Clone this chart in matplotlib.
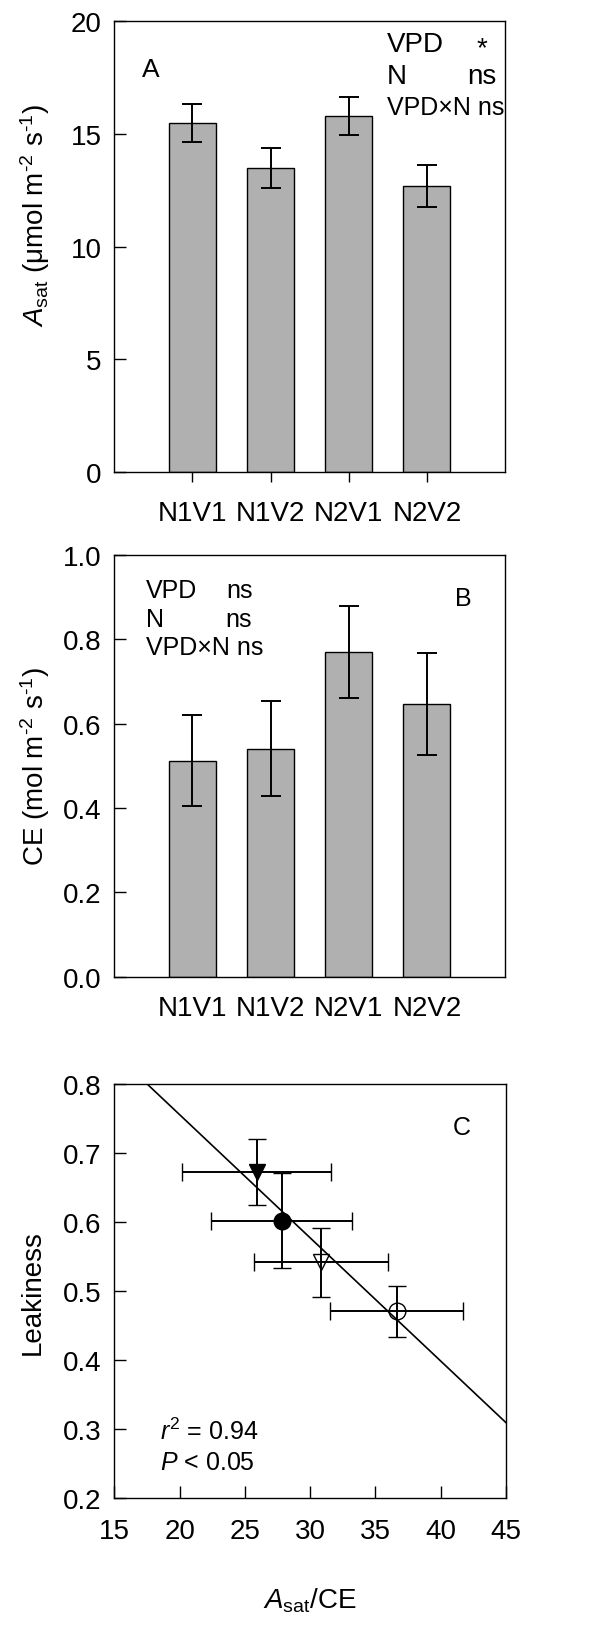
import matplotlib
matplotlib.use('Agg')
import matplotlib.pyplot as plt
import numpy as np

plt.rcParams['font.family'] = ['Liberation Sans', 'DejaVu Sans']
plt.rcParams['mathtext.fontset'] = 'custom'
plt.rcParams['mathtext.rm'] = 'Liberation Sans'
plt.rcParams['mathtext.it'] = 'Liberation Sans:italic'
plt.rcParams['mathtext.bf'] = 'Liberation Sans:bold'

# data
treatments = ['N1V1', 'N1V2', 'N2V1', 'N2V2']
asat_mean = [15.47, 13.48, 15.77, 12.68]
asat_se = [0.85, 0.90, 0.85, 0.95]
ce_mean = [0.512, 0.541, 0.770, 0.647]
ce_se = [0.108, 0.113, 0.108, 0.121]

# panel C: Asat/CE vs leakiness, order N1V1, N1V2, N2V1, N2V2
ratio_mean = [27.82, 25.90, 36.62, 30.83]
ratio_se = [5.40, 5.70, 5.08, 5.10]
leak_mean = [0.602, 0.673, 0.471, 0.542]
leak_se = [0.069, 0.048, 0.037, 0.050]
markers = ['o', 'v', 'o', 'v']
filled = [True, True, False, False]

bar_color = '#b0b0b0'
fs = 20
ann = 18

fig = plt.figure(figsize=(6.03, 16.49), dpi=100)
axA = fig.add_axes([0.1896, 0.7130, 0.6479, 0.2738])
axB = fig.add_axes([0.1896, 0.4071, 0.6479, 0.2557])
axC = fig.add_axes([0.1896, 0.0908, 0.6495, 0.2512])

for ax in (axA, axB, axC):
    for s in ax.spines.values():
        s.set_linewidth(1.0)
    ax.tick_params(axis='y', direction='in', length=8.6, width=1.0,
                   pad=9, labelsize=fs, right=False)
    ax.tick_params(axis='x', labelsize=fs, top=False)

x = np.arange(1, len(treatments) + 1)


def bar_panel(ax, means, errs):
    ax.bar(x, means, width=0.6, color=bar_color, edgecolor='black',
           linewidth=1.0, zorder=2)
    ax.errorbar(x, means, yerr=errs, fmt='none', ecolor='black',
                elinewidth=1.4, capsize=7.2, capthick=1.4, zorder=3)
    ax.set_xlim(0, 5)
    ax.set_xticks(x)
    ax.set_xticklabels(treatments)


units = ' m$^{\u2010' + '2}$ s$^{\u2010' + '1}$)'

# A
bar_panel(axA, asat_mean, asat_se)
axA.set_ylim(0, 20)
axA.set_yticks([0, 5, 10, 15, 20])
axA.tick_params(axis='x', direction='out', length=7.2, width=1.0, pad=13)
axA.set_ylabel(r'$\mathit{A}_{\mathrm{sat}}$ (μmol' + units, fontsize=fs)
axA.yaxis.set_label_coords(-0.16, 0.57)
axA.text(0.07, 0.893, 'A', transform=axA.transAxes, fontsize=ann + 1, va='center')
axA.text(0.697, 0.948, 'VPD', transform=axA.transAxes, fontsize=ann + 2, va='center')
axA.text(0.94, 0.940, '*', transform=axA.transAxes, fontsize=ann + 2, va='center', ha='center')
axA.text(0.697, 0.878, 'N', transform=axA.transAxes, fontsize=ann + 2, va='center')
axA.text(0.902, 0.878, 'ns', transform=axA.transAxes, fontsize=ann + 2, va='center')
axA.text(0.697, 0.808, 'VPD×N ns', transform=axA.transAxes, fontsize=ann, va='center')

# B
bar_panel(axB, ce_mean, ce_se)
axB.set_ylim(0, 1.0)
axB.set_yticks(np.arange(0, 1.01, 0.2))
axB.yaxis.set_major_formatter(matplotlib.ticker.FormatStrFormatter('%.1f'))
axB.tick_params(axis='x', length=0, pad=13)
axB.set_ylabel('CE (mol' + units, fontsize=fs)
axB.yaxis.set_label_coords(-0.16, 0.5)
axB.text(0.080, 0.917, 'VPD', transform=axB.transAxes, fontsize=ann, va='center')
axB.text(0.286, 0.917, 'ns', transform=axB.transAxes, fontsize=ann, va='center')
axB.text(0.080, 0.848, 'N', transform=axB.transAxes, fontsize=ann, va='center')
axB.text(0.283, 0.848, 'ns', transform=axB.transAxes, fontsize=ann, va='center')
axB.text(0.080, 0.781, 'VPD×N ns', transform=axB.transAxes, fontsize=ann, va='center')
axB.text(0.893, 0.897, 'B', transform=axB.transAxes, fontsize=ann, va='center', ha='center')

# C
for i in range(len(ratio_mean)):
    axC.errorbar(ratio_mean[i], leak_mean[i], xerr=ratio_se[i], yerr=leak_se[i],
                 fmt=markers[i], ms=12,
                 mfc='black' if filled[i] else 'none', mec='black', mew=1.0,
                 ecolor='black', elinewidth=1.4, capsize=6.5, capthick=1.4,
                 zorder=3)
slope, intercept = np.polyfit(ratio_mean, leak_mean, 1)
xl = np.array([15, 45])
axC.plot(xl, slope * xl + intercept, color='black', lw=1.2, zorder=2)
axC.set_xlim(15, 45)
axC.set_ylim(0.2, 0.8)
axC.set_xticks(np.arange(15, 46, 5))
axC.set_yticks(np.arange(0.2, 0.81, 0.1))
axC.yaxis.set_major_formatter(matplotlib.ticker.FormatStrFormatter('%.1f'))
axC.tick_params(axis='x', direction='in', length=8.6, width=1.0, pad=14)
axC.set_ylabel('Leakiness', fontsize=fs)
axC.yaxis.set_label_coords(-0.175, 0.5)
axC.set_xlabel(r'$\mathit{A}_{\mathrm{sat}}$/CE', fontsize=fs, labelpad=30)
axC.text(0.887, 0.897, 'C', transform=axC.transAxes, fontsize=ann, va='center', ha='center')
axC.text(0.117, 0.163, r'$\mathit{r}^2$ = 0.94', transform=axC.transAxes, fontsize=ann, va='center')
axC.text(0.117, 0.088, r'$\mathit{P}$ < 0.05', transform=axC.transAxes, fontsize=ann, va='center')

fig.savefig('out.png', dpi=100)
